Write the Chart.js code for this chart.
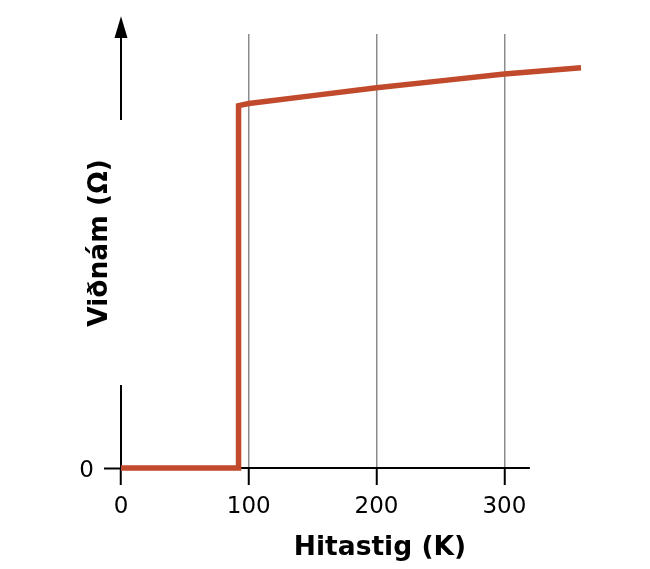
<!DOCTYPE html>
<html>
<head>
<meta charset="utf-8">
<script src="https://cdn.jsdelivr.net/npm/chart.js@4"></script>
<style>
html,body{margin:0;padding:0;background:#fff;}
#wrap{width:650px;height:569px;position:relative;}
</style>
</head>
<body>
<div id="wrap"><canvas id="c" width="650" height="569"></canvas></div>
<script>
const temperatures = [0, 92, 92, 100, 150, 200, 250, 300, 360];
const resistance   = [0, 0, 83.5, 84.0, 85.8, 87.6, 89.2, 90.8, 92.2];
const xTickValues = [0, 100, 200, 300];
const yTickValues = [0];
const xTitle = 'Hitastig (K)';
const yTitle = 'Viðnám (Ω)';
const xAxisEnd = 320;
const yAxisGapStart = 19.1, yAxisGapEnd = 80.2, arrowBase = 99.1, arrowTip = 104.1;

const FONT = "'DejaVu Sans', sans-serif";
const RED = '#c1492c';

const axesPlugin = {
  id: 'axesPlugin',
  beforeDatasetsDraw(chart) {
    const {ctx, scales: {x, y}} = chart;
    ctx.save();
    ctx.strokeStyle = '#000';
    ctx.lineWidth = 2;
    const x0 = x.getPixelForValue(0), y0 = y.getPixelForValue(0);
    ctx.beginPath();
    ctx.moveTo(x0, y0);
    ctx.lineTo(x.getPixelForValue(xAxisEnd), y0);
    ctx.stroke();
    ctx.beginPath();
    ctx.moveTo(x0, y0);
    ctx.lineTo(x0, y.getPixelForValue(yAxisGapStart));
    ctx.stroke();
    ctx.beginPath();
    ctx.moveTo(x0, y.getPixelForValue(yAxisGapEnd));
    ctx.lineTo(x0, y.getPixelForValue(arrowBase));
    ctx.stroke();
    ctx.fillStyle = '#000';
    ctx.beginPath();
    ctx.moveTo(x0, y.getPixelForValue(arrowTip));
    ctx.lineTo(x0 + 6.5, y.getPixelForValue(arrowBase));
    ctx.lineTo(x0 - 6.5, y.getPixelForValue(arrowBase));
    ctx.closePath();
    ctx.fill();
    ctx.restore();
  },
  afterDraw(chart) {
    const {ctx} = chart;
    ctx.save();
    ctx.fillStyle = '#000';
    ctx.font = "bold 26.5px " + FONT;
    ctx.textAlign = 'center';
    ctx.textBaseline = 'alphabetic';
    ctx.fillText(xTitle, 380, 555);
    ctx.translate(107, 243);
    ctx.rotate(-Math.PI / 2);
    ctx.fillText(yTitle, 0, 0);
    ctx.restore();
  }
};

new Chart(document.getElementById('c'), {
  type: 'line',
  data: {
    datasets: [{
      data: temperatures.map((t, i) => ({x: t, y: resistance[i]})),
      borderColor: RED,
      borderWidth: 5.5,
      pointRadius: 0,
      tension: 0,
      fill: false,
      borderJoinStyle: 'miter',
      borderCapStyle: 'butt',
      clip: 10
    }]
  },
  options: {
    responsive: false,
    animation: false,
    devicePixelRatio: 1,
    layout: {padding: {left: 0, right: 69, top: 34, bottom: 0}},
    plugins: {legend: {display: false}, tooltip: {enabled: false}},
    scales: {
      x: {
        type: 'linear',
        min: 0, max: 360,
        afterBuildTicks(s) { s.ticks = xTickValues.map(v => ({value: v})); },
        afterFit(s) { s.height = 101; },
        border: {display: false},
        grid: {
          drawOnChartArea: true,
          color: c => (c.tick && c.tick.value === 0) ? 'rgba(0,0,0,0)' : '#8c8c8c',
          lineWidth: 1.5,
          tickLength: 17,
          tickColor: '#000',
          tickWidth: 2
        },
        ticks: {
          color: '#000',
          font: {family: FONT, size: 23},
          padding: 8,
          maxRotation: 0,
          callback: v => String(v)
        }
      },
      y: {
        type: 'linear',
        min: 0, max: 100,
        afterBuildTicks(s) { s.ticks = yTickValues.map(v => ({value: v})); },
        afterFit(s) { s.width = 121; },
        border: {display: false},
        grid: {
          drawOnChartArea: false,
          tickLength: 17,
          tickColor: '#000',
          tickWidth: 2
        },
        ticks: {
          color: '#000',
          font: {family: FONT, size: 23},
          padding: 10,
          labelOffset: 3,
          callback: v => String(v)
        }
      }
    }
  },
  plugins: [axesPlugin]
});
</script>
</body>
</html>
